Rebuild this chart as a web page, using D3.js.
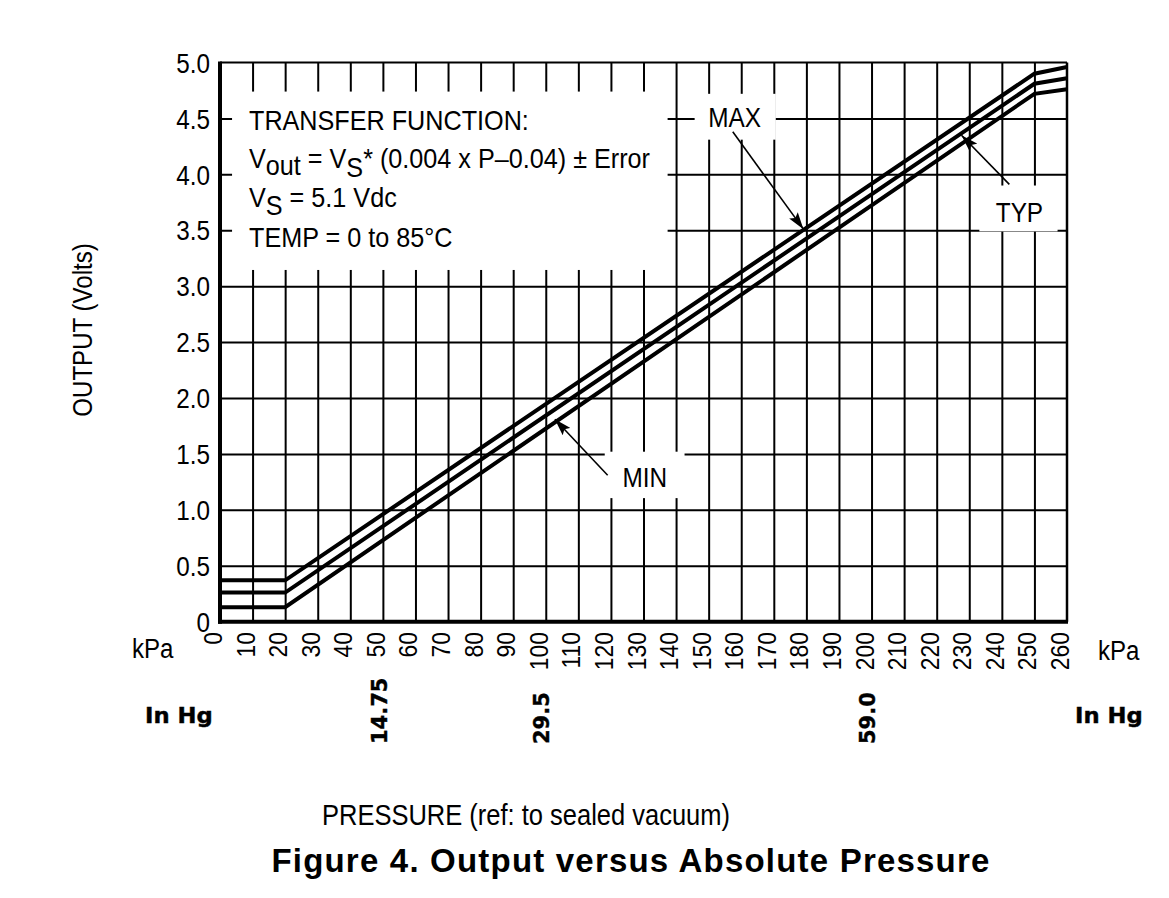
<!DOCTYPE html>
<html lang="en">
	<head>
		<meta charset="utf-8">
		<title>Output versus Absolute Pressure</title>
		<script type="text/javascript" src="https://cdn.jsdelivr.net/npm/d3@7"></script>
    <style>
      body { margin: 0; background: white; }
      svg text { font-family: "Liberation Sans", Arial, sans-serif; fill: black; }
      g.grid line { stroke: black; stroke-width: 2; }
      g.grid path { display: none; }
      path.curve { fill: none; stroke: black; stroke-width: 4; stroke-linejoin: miter; }
      line.arrow { stroke: black; stroke-width: 1.6; }
      .inhg { font-family: "DejaVu Sans", sans-serif !important; font-weight: bold; stroke: black; stroke-width: 0.4; }
    </style>
	</head>
	<body>
    <script type="text/javascript">

      // pressure break points (kPa) and output limits (Volts)
      const pressure = [0, 20, 250, 260];
      const maxOut = [0.37, 0.37, 4.90, 4.96];
      const typOut = [0.26, 0.26, 4.81, 4.86];
      const minOut = [0.13, 0.13, 4.72, 4.76];
      const seriesNames = ["MAX", "TYP", "MIN"];

      // axis ticks
      const kpaTicks = d3.range(0, 261, 10);
      const voltTicks = [5.0, 4.5, 4.0, 3.5, 3.0, 2.5, 2.0, 1.5, 1.0, 0.5, 0];
      const voltLabels = ["5.0", "4.5", "4.0", "3.5", "3.0", "2.5", "2.0", "1.5", "1.0", "0.5", "0"];
      const inHgKpa = [49.95, 99.9, 199.8];
      const inHgLabels = ["14.75", "29.5", "59.0"];

      const width = 1169, height = 898;
      const x = d3.scaleLinear().domain([0, 260]).range([220, 1067]);
      const y = d3.scaleLinear().domain([0, 5]).range([621.7, 62.5]);

      // no narrow face installed, so squeeze the regular one
      const NARROW = 0.88;

      const svg = d3.select("body")
        .append("svg")
        .attr("width", width)
        .attr("height", height);

      // helper: text at (px,py), optional rotation, horizontal squeeze
      function label(parent, str, px, py, opts) {
        opts = opts || {};
        const rot = opts.rotate ? ` rotate(${opts.rotate})` : "";
        return parent.append("text")
          .attr("transform", `translate(${px},${py})${rot} scale(${opts.sx || NARROW},1)`)
          .attr("text-anchor", opts.anchor || "start")
          .style("font-size", (opts.size || 28) + "px")
          .text(str);
      }

      // grid lines
      svg.append("g")
        .attr("class", "grid")
        .attr("transform", `translate(0,${y(0)})`)
        .call(d3.axisBottom(x).tickValues(kpaTicks.slice(1, -1))
          .tickSize(-(y(0) - y(5))).tickFormat(""));
      svg.append("g")
        .attr("class", "grid")
        .attr("transform", `translate(${x(0)},0)`)
        .call(d3.axisLeft(y).tickValues(voltTicks.slice(1, -1))
          .tickSize(-(x(260) - x(0))).tickFormat(""));

      // white boxes behind the annotations (data units)
      const boxes = [
        {x0: 3.7, x1: 137.4, y0: 4.74, y1: 3.145},   // transfer function
        {x0: 145.7, x1: 170.6, y0: 4.72, y1: 4.31},  // MAX
        {x0: 233.1, x1: 257.1, y0: 3.90, y1: 3.49},  // TYP
        {x0: 118.1, x1: 142.6, y0: 1.52, y1: 1.105}  // MIN
      ];
      svg.append("g")
        .selectAll("rect")
        .data(boxes)
        .join("rect")
        .attr("x", d => x(d.x0))
        .attr("y", d => y(d.y0))
        .attr("width", d => x(d.x1) - x(d.x0))
        .attr("height", d => y(d.y1) - y(d.y0))
        .attr("fill", "white");

      // frame
      svg.append("line").attr("x1", x(0)).attr("x2", x(260)).attr("y1", y(5)).attr("y2", y(5))
        .attr("stroke", "black").attr("stroke-width", 2);
      svg.append("line").attr("x1", x(260)).attr("x2", x(260)).attr("y1", y(5)).attr("y2", y(0))
        .attr("stroke", "black").attr("stroke-width", 2.5);
      svg.append("line").attr("x1", x(0)).attr("x2", x(0)).attr("y1", y(5) - 1).attr("y2", y(0) + 2)
        .attr("stroke", "black").attr("stroke-width", 4);
      svg.append("line").attr("x1", x(0) - 2).attr("x2", x(260) + 1).attr("y1", y(0)).attr("y2", y(0))
        .attr("stroke", "black").attr("stroke-width", 4);

      // curves
      const line = d3.line()
        .x((d, i) => x(pressure[i]))
        .y(d => y(d));
      svg.append("g")
        .selectAll("path")
        .data([maxOut, typOut, minOut])
        .join("path")
        .attr("class", "curve")
        .attr("d", d => line(d));

      // y tick labels
      const yAxis = svg.append("g")
        .attr("transform", `translate(${x(0)},0)`)
        .call(d3.axisLeft(y).tickValues(voltTicks)
          .tickFormat((d, i) => voltLabels[i]).tickSize(0).tickPadding(11));
      yAxis.select(".domain").remove();
      yAxis.selectAll("text")
        .attr("font-family", null)
        .attr("font-size", null)
        .attr("transform", "scale(0.9,1)")
        .style("font-size", "27px")
        .attr("dy", "0.36em");

      // x tick labels (rotated)
      const xLab = svg.append("g");
      kpaTicks.forEach(d => label(xLab, d, x(d) + 2, 632, {rotate: -90, anchor: "end", size: 26, sx: 0.88}));

      label(svg, "kPa", 132, 658, {sx: 0.86});
      label(svg, "kPa", 1098, 660, {sx: 0.86});

      // in Hg scale
      label(svg, "In Hg", 145, 723, {size: 21, sx: 1.08}).attr("class", "inhg");
      label(svg, "In Hg", 1075, 723, {size: 21, sx: 1.08}).attr("class", "inhg");
      const hg = svg.append("g");
      inHgKpa.forEach((d, i) =>
        label(hg, inHgLabels[i], x(d) + 4, 744, {rotate: -90, size: 21, sx: 1.0}).attr("class", "inhg"));

      // axis titles
      label(svg, "OUTPUT (Volts)", 92, 330, {rotate: -90, anchor: "middle", sx: 0.86});
      label(svg, "PRESSURE (ref: to sealed vacuum)", 526, 825, {anchor: "middle", size: 30, sx: 0.85});
      label(svg, "Figure 4. Output versus Absolute Pressure", 631, 872, {anchor: "middle", size: 33, sx: 1.0})
        .style("font-weight", "bold")
        .style("letter-spacing", "1.2px");

      // transfer function text
      const tf = svg.append("g");
      const tx = x(8.9);
      label(tf, "TRANSFER FUNCTION:", tx, 130, {sx: 0.9});
      const l2 = label(tf, "", tx, 168, {sx: 0.9});
      l2.append("tspan").text("V");
      l2.append("tspan").attr("dy", 7).text("out");
      l2.append("tspan").attr("dy", -7).text(" = V");
      l2.append("tspan").attr("dy", 9).text("S");
      l2.append("tspan").attr("dy", -9).text("* (0.004 x P\u20130.04) \u00B1 Error");
      const l3 = label(tf, "", tx, 207, {sx: 0.9});
      l3.append("tspan").text("V");
      l3.append("tspan").attr("dy", 8).text("S");
      l3.append("tspan").attr("dy", -8).text(" = 5.1 Vdc");
      label(tf, "TEMP = 0 to 85\u00B0C", tx, 247, {sx: 0.9});

      // series labels and arrows
      svg.append("defs").append("marker")
        .attr("id", "head")
        .attr("viewBox", "0 0 16 10")
        .attr("refX", 16).attr("refY", 5)
        .attr("markerUnits", "userSpaceOnUse")
        .attr("markerWidth", 17).attr("markerHeight", 11)
        .attr("orient", "auto")
        .append("path")
        .attr("d", "M0,0L16,5L0,10L3,5Z")
        .attr("fill", "black");

      const callouts = [
        {text: seriesNames[0], tx: 158, ty: 4.51, fx: 157.4, fy: 4.38, px: 179.1, py: 3.51},
        {text: seriesNames[1], tx: 245.4, ty: 3.66, fx: 242.3, fy: 3.91, px: 227.6, py: 4.35},
        {text: seriesNames[2], tx: 130.4, ty: 1.29, fx: 119, fy: 1.31, px: 102.8, py: 1.81}
      ];
      svg.append("g")
        .selectAll("line")
        .data(callouts)
        .join("line")
        .attr("class", "arrow")
        .attr("x1", d => x(d.fx)).attr("y1", d => y(d.fy))
        .attr("x2", d => x(d.px)).attr("y2", d => y(d.py))
        .attr("marker-end", "url(#head)");
      const cl = svg.append("g");
      callouts.forEach(d => label(cl, d.text, x(d.tx), y(d.ty) + 10, {anchor: "middle", sx: 0.87}));
    </script>
  </body>
</html>
